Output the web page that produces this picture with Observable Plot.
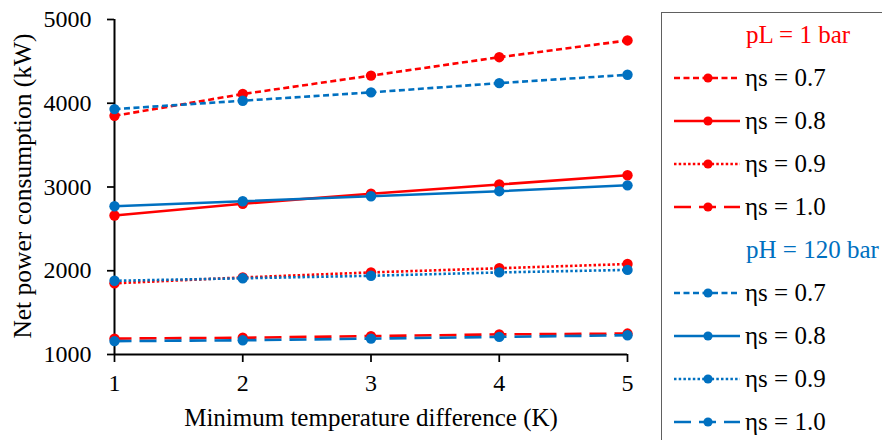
<!DOCTYPE html>
<html>
<head>
<meta charset="utf-8">
<script src="https://cdn.jsdelivr.net/npm/d3@7"></script>
<script src="https://cdn.jsdelivr.net/npm/@observablehq/plot@0.6"></script>
<style>
  body { margin: 0; background: #fff; font-family: "Liberation Serif", "Times New Roman", serif; }
  #wrap { position: relative; width: 882px; height: 440px; overflow: hidden; }
  #chart { position: absolute; left: 0; top: 0; }
  #legendBox { position: absolute; left: 661px; top: 12px; width: 260px; height: 480px; border: 1.5px solid #606060; box-sizing: border-box; }
  .item { position: absolute; height: 30px; display: flex; align-items: center; font-size: 25px; color: #000; white-space: nowrap; line-height: 30px; }
  .item svg { margin-right: 5px; }
</style>
</head>
<body>
<div id="wrap">
  <div id="chart"></div>
  <div id="legendBox"></div>
</div>
<script>
// Data
const dT = [1, 2, 3, 4, 5];
const etaLabels = ["0.7", "0.8", "0.9", "1.0"];
const pL_07 = [3850, 4110, 4330, 4550, 4750];
const pL_08 = [2660, 2800, 2920, 3030, 3140];
const pL_09 = [1850, 1920, 1980, 2030, 2080];
const pL_10 = [1190, 1200, 1220, 1240, 1250];
const pH_07 = [3930, 4030, 4130, 4240, 4340];
const pH_08 = [2770, 2830, 2890, 2950, 3020];
const pH_09 = [1880, 1910, 1940, 1980, 2010];
const pH_10 = [1160, 1170, 1190, 1210, 1230];
const yTicks = [1000, 2000, 3000, 4000, 5000];
const groups = ["pL", "pH"];
const groupTitles = ["pL = 1 bar", "pH = 120 bar"];
const xLabel = "Minimum temperature difference (K)";
const yLabel = "Net power consumption (kW)";

const series = [
  {group: "pL", eta: "0.7", values: pL_07},
  {group: "pL", eta: "0.8", values: pL_08},
  {group: "pL", eta: "0.9", values: pL_09},
  {group: "pL", eta: "1.0", values: pL_10},
  {group: "pH", eta: "0.7", values: pH_07},
  {group: "pH", eta: "0.8", values: pH_08},
  {group: "pH", eta: "0.9", values: pH_09},
  {group: "pH", eta: "1.0", values: pH_10}
];
const colors = {pL: "#ff0000", pH: "#0070c0"};
const dashes = {"0.7": "6,3.5", "0.8": null, "0.9": "2.5,2.2", "1.0": "17,8"};

const rows = series.flatMap(s => s.values.map((v, i) => ({x: dT[i], y: v, group: s.group, eta: s.eta, key: s.group + s.eta})));

const marks = [
  Plot.axisY({ticks: yTicks, tickSize: 7, tickPadding: 16, fontSize: 24, strokeWidth: 1.75, label: null, tickFormat: d => String(d)}),
  Plot.axisX({ticks: dT, tickSize: 8, tickPadding: 11, fontSize: 24, strokeWidth: 1.75, label: null, tickFormat: d => String(d)}),
  Plot.ruleX([1], {stroke: "#000", strokeWidth: 2}),
  Plot.ruleY([1000], {stroke: "#000", strokeWidth: 2}),
  Plot.text([xLabel], {frameAnchor: "bottom", lineAnchor: "middle", textAnchor: "middle", dy: 63, fontSize: 25, fill: "#000"}),
  Plot.text([yLabel], {frameAnchor: "left", lineAnchor: "middle", textAnchor: "middle", rotate: -90, dy: -1, dx: -92, fontSize: 25.5, fill: "#000"})
];
for (const s of series) {
  const d = rows.filter(r => r.key === s.group + s.eta);
  const opts = {x: "x", y: "y", stroke: "group", strokeWidth: 2.6, strokeLinecap: "butt"};
  if (dashes[s.eta]) opts.strokeDasharray = dashes[s.eta];
  marks.push(Plot.line(d, opts));
  marks.push(Plot.dot(d, {x: "x", y: "y", fill: "group", r: 5.2}));
}

const chart = Plot.plot({
  width: 660,
  height: 440,
  marginLeft: 114,
  marginRight: 33,
  marginTop: 19,
  marginBottom: 86,
  style: {fontFamily: "Liberation Serif, Times New Roman, serif", fontSize: "24px", color: "#000", background: "#fff", overflow: "visible"},
  x: {domain: [1, 5]},
  y: {domain: [1000, 5000]},
  color: {domain: groups, range: [colors.pL, colors.pH]},
  marks
});
document.getElementById("chart").append(chart);

// Legend (page coordinates of row centres)
const wrap = document.getElementById("wrap");
let cy = 35;
groups.forEach((g, gi) => {
  const h = document.createElement("div");
  h.className = "item";
  h.style.left = "746px";
  h.style.top = (cy - 15) + "px";
  h.style.color = colors[g];
  h.textContent = groupTitles[gi];
  wrap.appendChild(h);
  cy += 43;
  etaLabels.forEach(e => {
    const r = document.createElement("div");
    r.className = "item";
    r.style.left = "674px";
    r.style.top = (cy - 15) + "px";
    const da = dashes[e] ? `stroke-dasharray="${dashes[e]}"` : "";
    r.innerHTML = `<svg width="66" height="20"><line x1="0" y1="10" x2="66" y2="10" stroke="${colors[g]}" stroke-width="2.6" ${da}/><circle cx="34" cy="10" r="4.6" fill="${colors[g]}"/></svg><span>ηs = ${e}</span>`;
    wrap.appendChild(r);
    cy += 43;
  });
});
</script>
</body>
</html>
